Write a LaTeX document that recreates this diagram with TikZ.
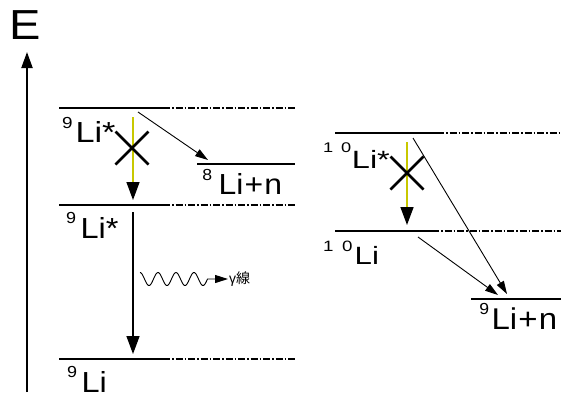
\documentclass[tikz,border=0pt]{standalone}
\usepackage{fontspec}
\usepackage{graphicx}
\setmainfont{Liberation Sans}
\newfontfamily\cjk{Noto Sans CJK JP}
\usetikzlibrary{arrows.meta,calc}
\definecolor{ylw}{RGB}{200,200,0}
% #1 sup text, #2 sup size, #3 raise, #4 kern, #5 main text, #6 main size, #7 horizontal scale
\newcommand{\nuc}[7]{\scalebox{#7}[1]{{\fontsize{#2}{#2}\selectfont\raisebox{#3pt}{#1}}\kern#4pt{\fontsize{#6}{#6}\selectfont #5}}}
\begin{document}
\begin{tikzpicture}[x=1pt,y=-1pt,
  level/.style={line width=2pt},
  ext/.style={line width=1.4pt, dash pattern=on 7pt off 2pt on 1.5pt off 2pt},
  lab/.style={anchor=base west, inner sep=0pt, outer sep=0pt},
  thinarrow/.style={line width=0.9pt, -{Triangle[length=13pt,width=8pt]}},
  bigarrow/.style={line width=1.5pt, -{Triangle[length=18pt,width=13pt]}},
  yarrow/.style={ylw, line width=1.5pt, -{Triangle[length=18pt,width=13pt,color=black]}},
  crossline/.style={line width=2.6pt}
]
\useasboundingbox (0,0) rectangle (561,392);
% axis
\coordinate (axb) at (27,392);
\coordinate (axt) at (27,52);
\draw[line width=2pt,-{Triangle[length=16pt,width=11pt]}] (axb) -- (axt);
\node[inner sep=0pt] (E) at (25.5,25) {\scalebox{1.12}[1]{\fontsize{42}{42}\selectfont E}};
% left levels
\coordinate (a1) at (59,108); \coordinate (a1m) at (163,108); \coordinate (a1e) at (295,108);
\coordinate (a2) at (59,205); \coordinate (a2m) at (163,205); \coordinate (a2e) at (295,205);
\coordinate (a3) at (59,359); \coordinate (a3m) at (163,359); \coordinate (a3e) at (295,359);
\coordinate (n8) at (197,164); \coordinate (n8e) at (295,164);
\draw[level] (a1) -- (a1m); \draw[ext] (a1m) -- (a1e);
\draw[level] (a2) -- (a2m); \draw[ext] (a2m) -- (a2e);
\draw[level] (a3) -- (a3m); \draw[ext] (a3m) -- (a3e);
\draw[level] (n8) -- (n8e);
% left labels
\node[lab] (L1) at (62.2,142) {\nuc{9}{16}{13.5}{2.4}{Li*}{29}{1.18}};
\node[lab] (L8) at (202.3,194) {\nuc{8}{16}{13.5}{6}{Li\kern1pt+\kern1pt n}{29}{1.1}};
\node[lab] (L2) at (66.2,238) {\nuc{9}{16}{14.5}{4}{Li*}{29}{1.12}};
\node[lab] (L3) at (67.2,392) {\nuc{9}{16}{14.5}{4}{Li}{29}{1.12}};
% left transitions
\coordinate (y1s) at (133,117); \coordinate (y1t) at (133,200);
\draw[yarrow] (y1s) -- (y1t);
\coordinate (c1) at (132,148);
\draw[crossline] ($(c1)+(-16.5,-16.5)$) -- ($(c1)+(16.5,16.5)$);
\draw[crossline] ($(c1)+(16.5,-16.5)$) -- ($(c1)+(-16.5,16.5)$);
\coordinate (d1s) at (138,112); \coordinate (d1t) at (208,160);
\draw[thinarrow] (d1s) -- (d1t);
\coordinate (g1s) at (133,212); \coordinate (g1t) at (133,354);
\draw[bigarrow] (g1s) -- (g1t);
% gamma wave
\coordinate (wt) at (228,279);
\draw[line width=0.9pt, -{Triangle[length=13pt,width=8pt]}]
  plot[domain=0:67.5, samples=120, smooth] ({140+\x},{279-6.5*cos(20*\x)}) -- (wt);
\node[anchor=west, inner sep=0pt] (gam) at (229,279) {\fontsize{14}{14}\selectfont γ{\cjk 線}};
% right levels
\coordinate (b1) at (335,133); \coordinate (b1m) at (437,133); \coordinate (b1e) at (561,133);
\coordinate (b2) at (335,231); \coordinate (b2m) at (432,231); \coordinate (b2e) at (561,231);
\coordinate (n9) at (471,299); \coordinate (n9e) at (561,299);
\draw[level] (b1) -- (b1m); \draw[ext] (b1m) -- (b1e);
\draw[level] (b2) -- (b2m); \draw[ext] (b2m) -- (b2e);
\draw[level] (n9) -- (n9e);
% right labels
\node[lab] (R1) at (323,168) {\nuc{1\kern6.2pt 0}{14}{16}{0.5}{Li*}{25}{1.3}};
\node[lab] (R2) at (323,264) {\nuc{1\kern7pt 0}{15}{13}{1.7}{Li}{25}{1.25}};
\node[lab] (R9) at (479.3,329) {\nuc{9}{16}{14.5}{2.3}{Li\kern1pt+\kern1pt n}{30}{1.1}};
% right transitions
\coordinate (y2s) at (407,142); \coordinate (y2t) at (407,225);
\draw[yarrow] (y2s) -- (y2t);
\coordinate (c2) at (407,173);
\draw[crossline] ($(c2)+(-16.5,-16.5)$) -- ($(c2)+(16.5,16.5)$);
\draw[crossline] ($(c2)+(16.5,-16.5)$) -- ($(c2)+(-16.5,16.5)$);
\coordinate (d2s) at (413,138); \coordinate (d2t) at (507,294);
\draw[thinarrow] (d2s) -- (d2t);
\coordinate (d3s) at (418,237); \coordinate (d3t) at (498,295);
\draw[thinarrow] (d3s) -- (d3t);
\end{tikzpicture}
\end{document}
